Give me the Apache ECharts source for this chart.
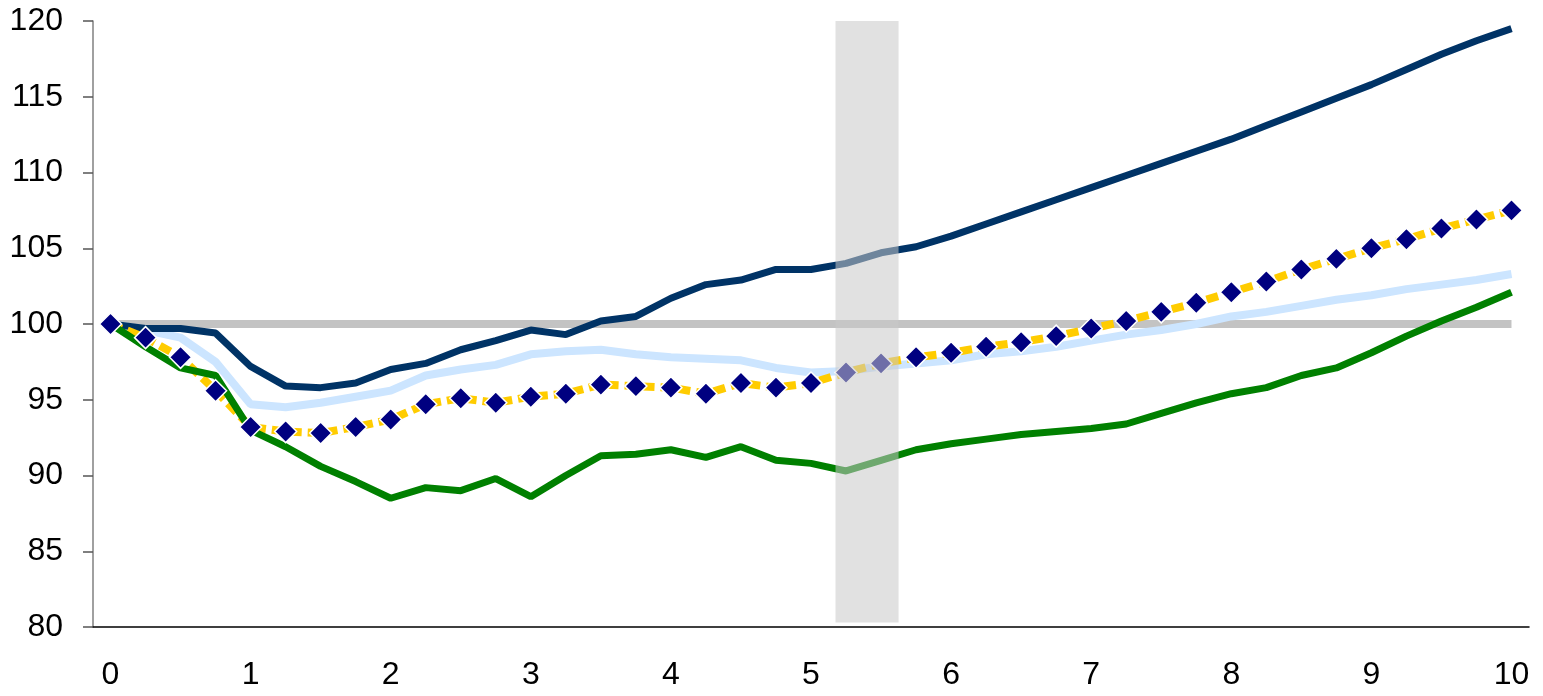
<!DOCTYPE html>
<html>
<head>
    <meta charset="utf-8">
    <title>Index chart</title>
    <script src="https://cdn.jsdelivr.net/npm/echarts@6/dist/echarts.min.js"></script>
</head>
<body style="margin:0;background:#fff">
<div id="main" style="width:1543px;height:696px;"></div>
<script type="text/javascript">
    // quarters 0 .. 10
    var categories = ['0', '0.25', '0.5', '0.75', '1', '1.25', '1.5', '1.75', '2', '2.25', '2.5', '2.75',
        '3', '3.25', '3.5', '3.75', '4', '4.25', '4.5', '4.75', '5', '5.25', '5.5', '5.75',
        '6', '6.25', '6.5', '6.75', '7', '7.25', '7.5', '7.75', '8', '8.25', '8.5', '8.75',
        '9', '9.25', '9.5', '9.75', '10'];

    var baseline = [100, 100, 100, 100, 100, 100, 100, 100, 100, 100, 100, 100, 100, 100,
        100, 100, 100, 100, 100, 100, 100, 100, 100, 100, 100, 100, 100, 100,
        100, 100, 100, 100, 100, 100, 100, 100, 100, 100, 100, 100, 100];

    var navy = [100, 99.7, 99.7, 99.4, 97.2, 95.9, 95.8, 96.1, 97.0, 97.4, 98.3, 98.9, 99.6, 99.3,
        100.2, 100.5, 101.7, 102.6, 102.9, 103.6, 103.6, 104.0, 104.7, 105.1, 105.8, 106.6, 107.4,
        108.2, 109.0, 109.8, 110.6, 111.4, 112.2, 113.1, 114.0, 114.9, 115.8, 116.8, 117.8, 118.7, 119.5];

    var lightBlue = [100, 99.6, 99.1, 97.5, 94.7, 94.5, 94.8, 95.2, 95.6, 96.6, 97.0, 97.3, 98.0, 98.2,
        98.3, 98.0, 97.8, 97.7, 97.6, 97.1, 96.8, 96.9, 97.2, 97.4, 97.6, 98.0, 98.2, 98.5,
        98.9, 99.3, 99.6, 100.0, 100.5, 100.8, 101.2, 101.6, 101.9, 102.3, 102.6, 102.9, 103.3];

    var green = [100, 98.5, 97.1, 96.6, 93.0, 91.9, 90.6, 89.6, 88.5, 89.2, 89.0, 89.8, 88.6, 90.0,
        91.3, 91.4, 91.7, 91.2, 91.9, 91.0, 90.8, 90.3, 91.0, 91.7, 92.1, 92.4, 92.7, 92.9,
        93.1, 93.4, 94.1, 94.8, 95.4, 95.8, 96.6, 97.1, 98.1, 99.2, 100.2, 101.1, 102.1];

    var central = [100, 99.1, 97.8, 95.6, 93.2, 92.9, 92.8, 93.2, 93.7, 94.7, 95.1, 94.8, 95.2, 95.4,
        96.0, 95.9, 95.8, 95.4, 96.1, 95.8, 96.1, 96.8, 97.4, 97.8, 98.1, 98.5, 98.8, 99.2,
        99.7, 100.2, 100.8, 101.4, 102.1, 102.8, 103.6, 104.3, 105.0, 105.6, 106.3, 106.9, 107.5];

    // shaded period, in category units (0..41) on the hidden value axis
    var bandFrom = 21.2;
    var bandTo = 23.0;
    var bandLow = 80.3;
    var bandHigh = 120;

    var myChart = echarts.init(document.getElementById('main'));
    var labelFont = {color: '#000', fontSize: 32, fontFamily: 'Liberation Sans, Arial, sans-serif'};

    myChart.setOption({
        animation: false,
        backgroundColor: '#fff',
        grid: {left: 93, right: 14, top: 21, bottom: 69},
        xAxis: [{
            type: 'category',
            data: categories,
            boundaryGap: true,
            axisLine: {lineStyle: {color: '#000', width: 1.5}},
            axisTick: {interval: 3, length: 11, lineStyle: {color: '#000', width: 1.5}},
            axisLabel: Object.assign({interval: 3, margin: 32}, labelFont),
            splitLine: {show: false}
        }, {
            type: 'value',
            min: 0,
            max: 41,
            show: false
        }],
        yAxis: {
            type: 'value',
            min: 80,
            max: 120,
            interval: 5,
            axisLine: {show: true, lineStyle: {color: '#808080', width: 1.5}},
            axisTick: {show: true, length: 10, lineStyle: {color: '#555', width: 1.5}},
            axisLabel: Object.assign({margin: 30}, labelFont),
            splitLine: {show: false}
        },
        series: [
            {
                name: 'base',
                type: 'line',
                data: baseline,
                showSymbol: false,
                z: 1,
                lineStyle: {color: '#c3c3c3', width: 8}
            },
            {
                name: 'light',
                type: 'line',
                data: lightBlue,
                showSymbol: false,
                z: 2,
                lineStyle: {color: '#cce5ff', width: 8}
            },
            {
                name: 'navy',
                type: 'line',
                data: navy,
                showSymbol: false,
                z: 3,
                lineStyle: {color: '#003366', width: 7}
            },
            {
                name: 'central',
                type: 'line',
                data: central,
                showSymbol: false,
                z: 4,
                lineStyle: {color: '#ffcc00', width: 8, type: [12, 6]}
            },
            {
                name: 'green',
                type: 'line',
                data: green,
                showSymbol: false,
                z: 5,
                lineStyle: {color: '#008000', width: 7}
            },
            {
                name: 'central markers',
                type: 'line',
                data: central,
                symbol: 'diamond',
                symbolSize: 22,
                showAllSymbol: true,
                z: 6,
                lineStyle: {opacity: 0},
                itemStyle: {color: '#000080', borderColor: '#fff', borderWidth: 1.5}
            },
            {
                name: 'band',
                type: 'line',
                xAxisIndex: 1,
                data: [],
                z: 10,
                markArea: {
                    silent: true,
                    z: 10,
                    itemStyle: {color: 'rgba(200,200,200,0.55)'},
                    data: [[{xAxis: bandFrom, yAxis: bandLow}, {xAxis: bandTo, yAxis: bandHigh}]]
                }
            }
        ]
    });
</script>
</body>
</html>
